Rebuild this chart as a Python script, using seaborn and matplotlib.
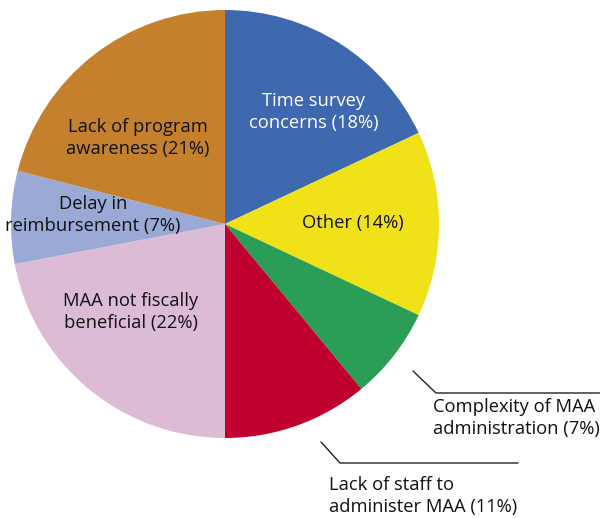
import matplotlib
matplotlib.use("Agg")
import matplotlib.pyplot as plt
import seaborn as sns

sns.set_style("white")
plt.rcParams['font.family'] = ['Open Sans', 'DejaVu Sans']

categories = ["Time survey\nconcerns", "Other", "Complexity of MAA\nadministration",
              "Lack of staff to\nadminister MAA", "MAA not fiscally\nbeneficial",
              "Delay in\nreimbursement", "Lack of program\nawareness"]
values = [18, 14, 7, 11, 22, 7, 21]
colors = ["#3f69ae", "#f0e119", "#2a9e57", "#c0002f", "#dcbcd5", "#9aa9d5", "#c4802d"]

W, H = 600, 518
fig = plt.figure(figsize=(6.0, 5.18), dpi=100)
ax = fig.add_axes([0, 0, 1, 1])

cx, cy, r = 225, H - 224, 214
ax.pie(values, colors=colors, startangle=90, counterclock=False,
       center=(cx, cy), radius=r, wedgeprops=dict(linewidth=0), frame=True)
ax.set_xlim(0, W)
ax.set_ylim(0, H)
ax.set_aspect("equal")
ax.axis("off")

fs = 13.2
def lab(i, x, y, color="#111111", ha="center"):
    ax.text(x, H - y, f"{categories[i]} ({values[i]}%)", ha=ha, va="center",
            fontsize=fs, color=color, linespacing=1.25)

lab(0, 314, 112, color="white")
lab(1, 353, 223)
lab(6, 138, 138)
lab(5, 93, 215)
lab(4, 131, 312)
lab(2, 433, 418, ha="left")
lab(3, 329, 496, ha="left")

# leader lines
ax.plot([413, 436, 600], [H - 371, H - 393, H - 393], color="#222222", lw=1)
ax.plot([321, 340, 518], [H - 442, H - 463, H - 463], color="#222222", lw=1)

fig.savefig("out.png", dpi=100)
